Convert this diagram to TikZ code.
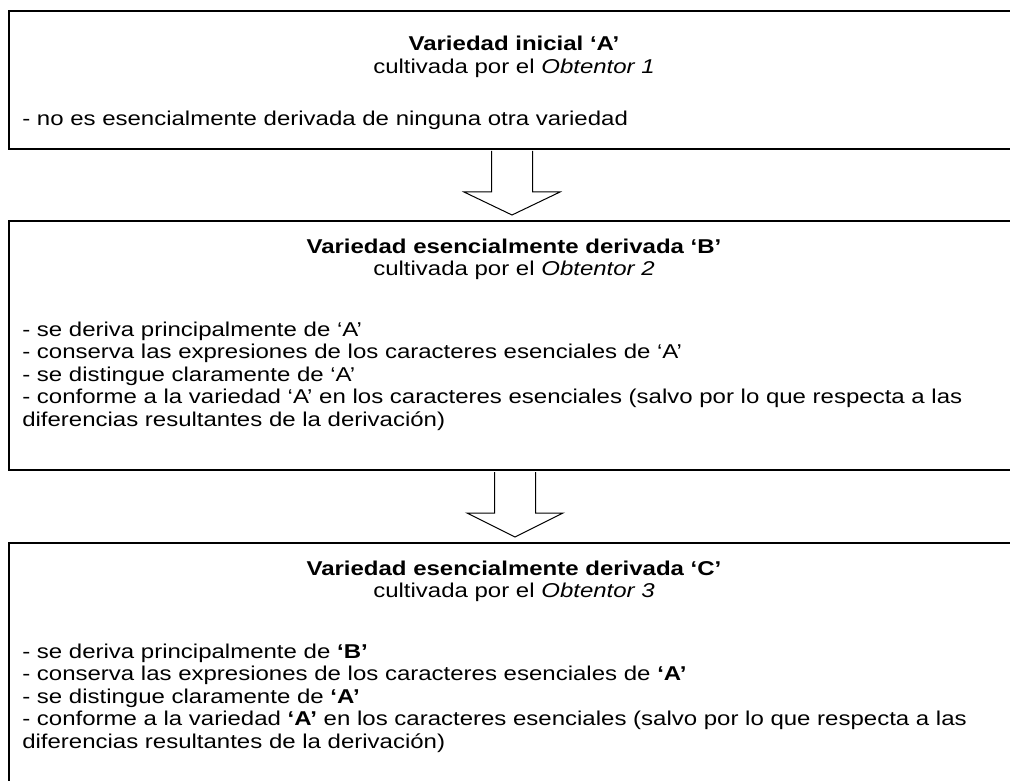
\documentclass[tikz,border=0pt]{standalone}
\usepackage{fontspec}
\setmainfont{Liberation Sans}[FakeStretch=1.2]
\usetikzlibrary{calc}
\tikzset{
  box/.style={draw,line width=1.5pt,rectangle,inner sep=0pt,anchor=north west,minimum width=759pt},
  txt/.style={inner sep=0pt,font=\fontsize{15pt}{17pt}\selectfont},
  ctr/.style={txt,anchor=base},
  lft/.style={txt,anchor=base west},
  blockarrow/.style={draw,fill=white,line width=0.75pt,line join=miter}
}
% #1 upper box anchor, #2 lower box anchor, #3 name of tip, #4 horizontal offset
\newcommand{\blockarrowfromto}[4]{%
  \coordinate (#3top) at ($(#1)+(#4,0)$);
  \coordinate (#3) at ($(#2)+(#4,-5)$);
  \draw[blockarrow] ($(#3top)+(-20.5,1)$) -- ($(#3top)+(-20.5,42)$) -- ($(#3top)+(-48,42)$)
     -- (#3) -- ($(#3top)+(48,42)$) -- ($(#3top)+(20.5,42)$) -- ($(#3top)+(20.5,1)$);}
\begin{document}
\begin{tikzpicture}[x=0.75pt,y=-0.75pt]
\useasboundingbox (0,0) rectangle (1010,781);
\clip (0,0) rectangle (1010,781);
% boxes
\node[box,minimum height=103.5pt] (A) at (8,10) {};
\node[box,minimum height=186.75pt] (B) at (8,220) {};
\node[box,minimum height=193.5pt] (C) at (8,542) {};
% box A text
\node[ctr] (At) at (514,51) {\textbf{Variedad inicial ‘A’}};
\node[ctr] (As) at (514,73.5) {cultivada por el \textit{Obtentor 1}};
\node[lft] (A1) at (22,126) {- no es esencialmente derivada de ninguna otra variedad};
% box B text
\node[ctr] (Bt) at (514,253) {\textbf{Variedad esencialmente derivada ‘B’}};
\node[ctr] (Bs) at (514,275.5) {cultivada por el \textit{Obtentor 2}};
\node[lft] (B1) at (22,336) {- se deriva principalmente de ‘A’};
\node[lft] (B2) at (22,358.6) {- conserva las expresiones de los caracteres esenciales de ‘A’};
\node[lft] (B3) at (22,381.2) {- se distingue claramente de ‘A’};
\node[lft] (B4) at (22,403.8) {- conforme a la variedad ‘A’ en los caracteres esenciales (salvo por lo que respecta a las};
\node[lft] (B5) at (22,426.4) {diferencias resultantes de la derivación)};
% box C text
\node[ctr] (Ct) at (514,575) {\textbf{Variedad esencialmente derivada ‘C’}};
\node[ctr] (Cs) at (514,597.5) {cultivada por el \textit{Obtentor 3}};
\node[lft] (C1) at (22,658) {- se deriva principalmente de \textbf{‘B’}};
\node[lft] (C2) at (22,680.6) {- conserva las expresiones de los caracteres esenciales de \textbf{‘A’}};
\node[lft] (C3) at (22,703.2) {- se distingue claramente de \textbf{‘A’}};
\node[lft] (C4) at (22,725.8) {- conforme a la variedad \textbf{‘A’} en los caracteres esenciales (salvo por lo que respecta a las};
\node[lft] (C5) at (22,748.4) {diferencias resultantes de la derivación)};
% arrows
\blockarrowfromto{A.south}{B.north}{tipAB}{-3}
\blockarrowfromto{B.south}{C.north}{tipBC}{0}
\end{tikzpicture}
\end{document}
